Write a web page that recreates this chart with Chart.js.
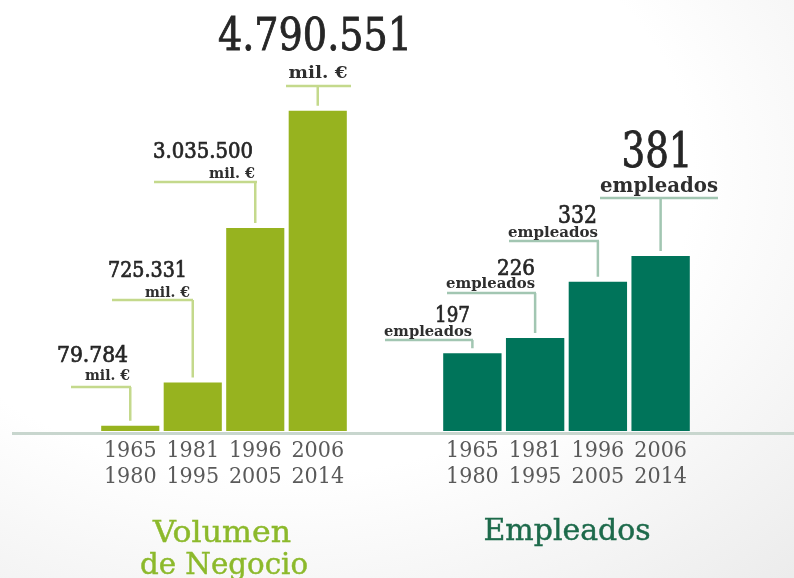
<!DOCTYPE html>
<html>
<head>
<meta charset="utf-8">
<script src="https://cdn.jsdelivr.net/npm/chart.js@4"></script>
<style>
    html, body { margin: 0; padding: 0; }
    body {
        width: 794px; height: 578px; overflow: hidden; position: relative;
        background: radial-gradient(ellipse 95% 95% at 35% 30%, #ffffff 55%, #ececec 100%);
    }
    canvas { position: absolute; top: 0; left: 0; }
</style>
</head>
<body>
<canvas id="volumen-chart" width="794" height="578"></canvas>
<canvas id="empleados-chart" width="794" height="578"></canvas>
<script>
// --- Data ---
const periods = [['1965', '1980'], ['1981', '1995'], ['1996', '2005'], ['2006', '2014']];
const volumenValues = [79784, 725331, 3035500, 4790551];   // mil. €
const empleadosValues = [197, 226, 332, 381];
const volumenUnit = 'mil. €';
const empleadosUnit = 'empleados';

const SERIF = '"DejaVu Serif Condensed", "DejaVu Serif", serif';
const fmt = (v) => v.toLocaleString('de-DE');

// draws text; if width is given the text is squeezed/stretched to that width
const drawText = (ctx, text, x, y, size, weight, color, align, width, stroke) => {
    ctx.save();
    ctx.font = `${weight} ${size}px ${SERIF}`;
    ctx.fillStyle = color;
    ctx.strokeStyle = color;
    ctx.textBaseline = 'alphabetic';
    const w = ctx.measureText(text).width;
    const sx = width ? width / w : 1;
    ctx.translate(x, y);
    ctx.scale(sx, 1);
    ctx.textAlign = align;
    ctx.fillText(text, 0, 0);
    if (stroke) {
        ctx.lineWidth = stroke;
        ctx.strokeText(text, 0, 0);
    }
    ctx.restore();
};

// --- Callout layout (page coordinates) ---
// line: y of horizontal leader, from/to its x range
// num/unit: [x, baseline, size, width, align]
const volumenCallouts = [
    { line: [387, 71, 131],  num: [128, 362, 22, 71, 'right'],  unit: [130, 380, 15, 45, 'right'] },
    { line: [300, 112, 193], num: [187, 277, 23, 79, 'right'],  unit: [190, 297, 15, 45, 'right'] },
    { line: [182, 154, 257], num: [253, 158, 22, 100, 'right'], unit: [255, 178, 15, 46, 'right'] },
    { line: [86, 286, 351],  num: [315, 50, 45, 194, 'center'], unit: [318, 78, 17, 59, 'center'] },
];
const empleadosCallouts = [
    { line: [340, 385, 473], num: [470, 322, 23, 35, 'right'],  unit: [472, 336, 14, 88, 'right'] },
    { line: [293, 447, 536], num: [535, 275, 23, 38, 'right'],  unit: [535, 288, 14, 89, 'right'] },
    { line: [241, 509, 599], num: [597, 223, 24, 39, 'right'],  unit: [598, 237, 14, 90, 'right'] },
    { line: [198, 600, 718], num: [657, 167, 48, 71, 'center'], unit: [659, 192, 20, 118, 'center'] },
];

const decorPlugin = (cfg) => ({
    id: 'decor',
    beforeDatasetsDraw(chart) {
        if (!cfg.baseline) return;
        const ctx = chart.ctx;
        ctx.fillStyle = '#c8d6ce';
        ctx.fillRect(12, chart.chartArea.bottom + 1, chart.width - 12, 3);
    },
    afterDatasetsDraw(chart) {
        const ctx = chart.ctx;
        const bars = chart.getDatasetMeta(0).data;
        bars.forEach((bar, i) => {
            const c = cfg.callouts[i];
            const [ly, lx0, lx1] = c.line;
            ctx.strokeStyle = cfg.leaderColor;
            ctx.lineWidth = 2.5;
            ctx.beginPath();
            ctx.moveTo(lx0, ly);
            ctx.lineTo(lx1, ly);
            ctx.moveTo(bar.x, ly);
            ctx.lineTo(bar.x, bar.y - 5);
            ctx.stroke();

            const big = i === bars.length - 1;
            const n = c.num, u = c.unit;
            drawText(ctx, cfg.labels[i], n[0], n[1], n[2], 'normal', '#262626', n[4], n[3], big ? 0.8 : 0.7);
            drawText(ctx, cfg.unit, u[0], u[1], u[2], 'bold', '#2e2e2e', u[4], u[3]);
        });
        cfg.titles.forEach(([text, x, y, w]) => {
            drawText(ctx, text, x, y, 30, 'normal', cfg.titleColor, 'center', w, 0.4);
        });
    }
});

const makeChart = (id, values, color, yMin, yMax, padding, cfg) => new Chart(document.getElementById(id), {
    type: 'bar',
    data: {
        labels: periods,
        datasets: [{
            data: values,
            backgroundColor: color,
            borderWidth: 0,
            categoryPercentage: 1,
            barPercentage: 0.93,
        }]
    },
    options: {
        responsive: false,
        animation: false,
        layout: { padding },
        plugins: { legend: { display: false }, tooltip: { enabled: false } },
        scales: {
            x: {
                grid: { display: false, drawTicks: false },
                border: { display: false },
                ticks: {
                    color: '#5a5a5a',
                    padding: 7,
                    maxRotation: 0,
                    autoSkip: false,
                    font: { family: SERIF, size: 23, lineHeight: 1.12 },
                },
                afterFit: (axis) => { axis.height = 110; }
            },
            y: { display: false, min: yMin, max: yMax }
        }
    },
    plugins: [decorPlugin(cfg)]
});

makeChart('volumen-chart', volumenValues, '#97b31f', 0, 4800000,
    { left: 99, right: 445, top: 110, bottom: 37 },
    {
        baseline: true, leaderColor: '#c4d98c',
        callouts: volumenCallouts, labels: volumenValues.map(fmt), unit: volumenUnit,
        titleColor: '#8cb92b',
        titles: [['Volumen', 222, 542, 138], ['de Negocio', 224, 574, 168]],
    });

makeChart('empleados-chart', empleadosValues, '#00745a', 50, 657,
    { left: 441, right: 102, top: 110, bottom: 37 },
    {
        baseline: false, leaderColor: '#a2c6b2',
        callouts: empleadosCallouts, labels: empleadosValues.map(fmt), unit: empleadosUnit,
        titleColor: '#1d6a4b',
        titles: [['Empleados', 567, 540, 167]],
    });
</script>
</body>
</html>
